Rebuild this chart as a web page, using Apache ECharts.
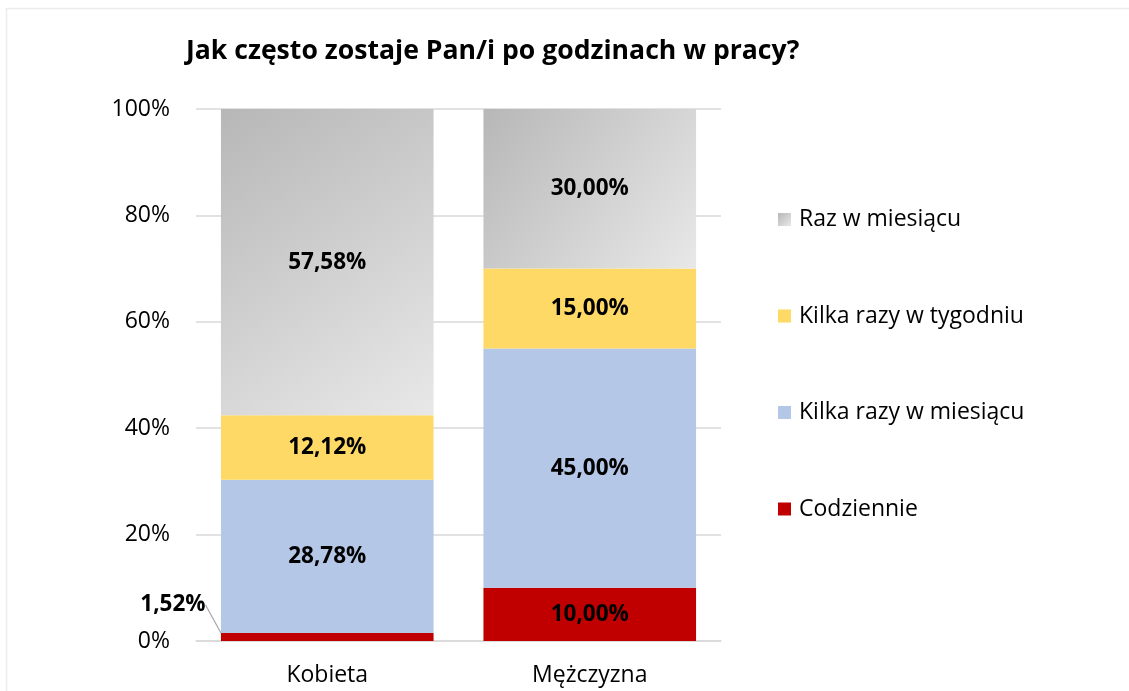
<!DOCTYPE html>
<html>
<head>
<meta charset="utf-8">
<script src="https://cdn.jsdelivr.net/npm/echarts@6/dist/echarts.min.js"></script>
<style>
  html, body { margin: 0; padding: 0; background: #fff; }
  #chart { width: 1129px; height: 691px; }
</style>
</head>
<body>
<div id="chart"></div>
<script>
// Survey: how often respondents stay at work after hours (100% stacked by gender)
const categories = ['Kobieta', 'Mężczyzna'];
const seriesNames = ['Codziennie', 'Kilka razy w miesiącu', 'Kilka razy w tygodniu', 'Raz w miesiącu'];
const codziennie = [1.52, 10.00];
const kilkaRazyWMiesiacu = [28.78, 45.00];
const kilkaRazyWTygodniu = [12.12, 15.00];
const razWMiesiacu = [57.58, 30.00];
const yTicks = [0, 20, 40, 60, 80, 100];

const FONT = 'Open Sans';
const greyGradient = new echarts.graphic.LinearGradient(0, 0, 1, 1, [
  { offset: 0, color: '#b7b7b7' },
  { offset: 1, color: '#e8e8e8' }
]);

const fmt = v => v.toFixed(2).replace('.', ',') + '%';

const baseLabel = {
  show: true,
  position: 'inside',
  fontFamily: FONT,
  fontWeight: 'bold',
  fontSize: 22.5,
  color: '#000',
  formatter: p => fmt(p.value)
};

function makeSeries(name, values, color) {
  return {
    name: name,
    type: 'bar',
    stack: 'total',
    barWidth: '81%',
    itemStyle: { color: color },
    label: baseLabel,
    emphasis: { disabled: true },
    data: values
  };
}

const sCodz = makeSeries(seriesNames[0], codziennie, '#c00000');
// the thin first segment carries its label outside, with a leader line
sCodz.labelLayout = function (p) {
  if (p.dataIndex === 0) {
    return { x: p.rect.x - 48, y: p.rect.y - 28, align: 'center', verticalAlign: 'middle' };
  }
};
sCodz.labelLine = { show: true, lineStyle: { color: '#a6a6a6', width: 1.2 } };
sCodz.data = codziennie.map((v, i) => i === 0
  ? { value: v, labelLine: { show: true } }
  : { value: v, labelLine: { show: false } });

const series = [
  sCodz,
  makeSeries(seriesNames[1], kilkaRazyWMiesiacu, '#b4c7e7'),
  makeSeries(seriesNames[2], kilkaRazyWTygodniu, '#ffd966'),
  makeSeries(seriesNames[3], razWMiesiacu, greyGradient)
];

const chart = echarts.init(document.getElementById('chart'), null, { renderer: 'canvas' });
chart.setOption({
  animation: false,
  backgroundColor: '#fff',
  textStyle: { fontFamily: FONT },
  graphic: [{
    type: 'rect',
    shape: { x: 6.5, y: 8.5, width: 1140, height: 700 },
    style: { fill: 'none', stroke: '#ececec', lineWidth: 1.5 },
    silent: true,
    z: -1
  }],
  title: {
    text: 'Jak często zostaje Pan/i po godzinach w pracy?',
    left: 181,
    top: 33,
    textStyle: { fontFamily: FONT, fontWeight: 'bold', fontSize: 26.6, color: '#000' }
  },
  legend: {
    orient: 'vertical',
    left: 773,
    top: 203,
    itemWidth: 13,
    itemHeight: 13,
    itemGap: 73.5,
    icon: 'rect',
    data: [seriesNames[3], seriesNames[2], seriesNames[1], seriesNames[0]],
    textStyle: { fontFamily: FONT, fontSize: 23, color: '#000', padding: [0, 0, 0, 3] },
    selectedMode: false
  },
  grid: { left: 196, right: 408, top: 109, bottom: 50 },
  xAxis: {
    type: 'category',
    data: categories,
    axisLine: { show: true, lineStyle: { color: '#d9d9d9', width: 1.5 } },
    axisTick: { show: false },
    axisLabel: { fontFamily: FONT, fontSize: 23, color: '#000', margin: 23 }
  },
  yAxis: {
    type: 'value',
    min: yTicks[0],
    max: yTicks[yTicks.length - 1],
    interval: yTicks[1] - yTicks[0],
    axisLine: { show: false },
    axisTick: { show: false },
    splitLine: { lineStyle: { color: '#d9d9d9', width: 1.5 } },
    axisLabel: { fontFamily: FONT, fontSize: 23, color: '#000', margin: 26, formatter: v => v + '%' }
  },
  series: series
});
</script>
</body>
</html>
